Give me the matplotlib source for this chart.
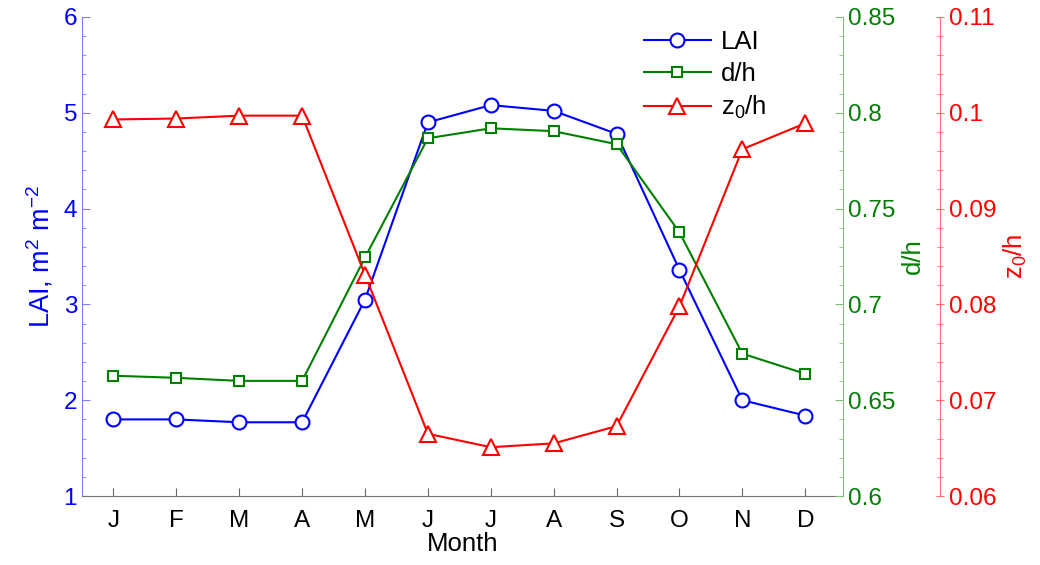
import matplotlib
matplotlib.use("Agg")
import matplotlib.pyplot as plt
from matplotlib.ticker import MultipleLocator

plt.rcParams['font.family'] = ['Liberation Sans', 'DejaVu Sans']
plt.rcParams['mathtext.fontset'] = 'custom'
plt.rcParams['mathtext.rm'] = 'Liberation Sans'
plt.rcParams['mathtext.it'] = 'Liberation Sans'

months = ["J", "F", "M", "A", "M", "J", "J", "A", "S", "O", "N", "D"]
lai = [1.80, 1.80, 1.77, 1.77, 3.05, 4.90, 5.08, 5.02, 4.78, 3.36, 2.00, 1.84]
d_h = [0.6628, 0.6617, 0.6601, 0.6601, 0.7245, 0.7867, 0.7919, 0.7904, 0.7836, 0.7376, 0.6743, 0.6638]
z0_h = [0.0993, 0.0994, 0.0997, 0.0997, 0.0831, 0.0665, 0.0651, 0.0655, 0.0673, 0.0798, 0.0962, 0.0989]

x = list(range(1, 13))
blue, green, red = (0, 0, 1), (0, 0.5, 0), (1, 0, 0)
fs = 17.5   # tick labels
lfs = 18.5  # axis labels and legend

fig = plt.figure(figsize=(10.4, 5.65), dpi=100)
ax = fig.add_axes([0.0788, 0.122, 0.7318, 0.848])
ax2 = ax.twinx()
ax3 = ax.twinx()

l1, = ax.plot(x, lai, '-o', color=blue, lw=1.5, ms=10, mfc='white', mew=1.5, label='LAI')
l2, = ax2.plot(x, d_h, '-s', color=green, lw=1.5, ms=7.5, mfc='white', mew=1.5, label='d/h')
l3, = ax3.plot(x, z0_h, '-^', color=red, lw=1.5, ms=11, mfc='white', mew=1.5, label='z$_0$/h')

ax.set_xlim(0.5, 12.6)
ax.set_ylim(1, 6)
ax2.set_ylim(0.6, 0.85)
ax3.set_ylim(0.06, 0.11)

ax.set_xticks(x)
ax.set_xticklabels(months)
ax.yaxis.set_major_locator(MultipleLocator(1))
ax.yaxis.set_minor_locator(MultipleLocator(0.2))
ax2.yaxis.set_major_locator(MultipleLocator(0.05))
ax2.yaxis.set_minor_locator(MultipleLocator(0.01))
ax3.yaxis.set_major_locator(MultipleLocator(0.01))
ax3.yaxis.set_minor_locator(MultipleLocator(0.002))

for a in (ax, ax2, ax3):
    a.spines['top'].set_visible(False)
    a.patch.set_visible(False)

ax.spines['right'].set_visible(False)
ax.spines['left'].set_color((0.5, 0.5, 1))
ax.spines['bottom'].set_color((0.45, 0.45, 0.45))
for s in ('left', 'bottom'):
    ax2.spines[s].set_visible(False)
    ax3.spines[s].set_visible(False)
ax2.spines['right'].set_color((0.5, 0.75, 0.5))
ax3.spines['right'].set_position(('axes', 1.1275))
ax3.spines['right'].set_color((1, 0.45, 0.45))

ax.tick_params(axis='x', direction='in', length=6, labelsize=fs, colors='black', pad=10)
ax.tick_params(axis='x', color=(0.4, 0.4, 0.4))
ax.tick_params(axis='y', which='both', direction='in', labelsize=fs, labelcolor=blue, color=(0.5, 0.5, 1))
ax.tick_params(axis='y', which='major', length=6)
ax.tick_params(axis='y', which='minor', length=3)
ax2.tick_params(axis='y', which='both', direction='in', labelsize=fs, labelcolor=green, color=(0.5, 0.75, 0.5))
ax2.tick_params(axis='y', which='major', length=6)
ax2.tick_params(axis='y', which='minor', length=3)
ax3.tick_params(axis='y', which='both', direction='inout', labelsize=fs, labelcolor=red, color=(1, 0.45, 0.45))
ax3.tick_params(axis='y', which='major', length=6)
ax3.tick_params(axis='y', which='minor', length=4)

fmt = lambda v, p: ('%g' % round(v, 4))
ax.yaxis.set_major_formatter(fmt)
ax2.yaxis.set_major_formatter(fmt)
ax3.yaxis.set_major_formatter(fmt)

ax.set_xlabel('Month', fontsize=lfs, labelpad=0)
ax.set_ylabel('LAI, m$^2$ m$^{-2}$', fontsize=19.5, color=blue, labelpad=6)
ax2.set_ylabel('d/h', fontsize=lfs, color=green, labelpad=4)
ax3.set_ylabel('z$_0$/h', fontsize=lfs, color=red, labelpad=4)

ax3.legend([l1, l2, l3], ['LAI', 'd/h', 'z$_0$/h'], loc='upper right',
           bbox_to_anchor=(0.93, 1.02), frameon=False, fontsize=lfs,
           handlelength=2.6, handletextpad=0.4, labelspacing=0.3)

fig.savefig('out.png', dpi=100)
